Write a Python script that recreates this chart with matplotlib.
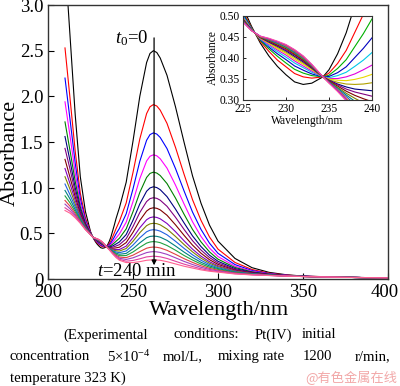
import matplotlib
matplotlib.use('Agg')
import matplotlib.pyplot as plt
from matplotlib.transforms import ScaledTranslation

plt.rcParams['font.family'] = ['Liberation Serif', 'DejaVu Serif']
plt.rcParams['mathtext.fontset'] = 'custom'
plt.rcParams['mathtext.rm'] = 'Liberation Serif'
plt.rcParams['mathtext.it'] = 'Liberation Serif:italic'

# wavelength grid (nm)
wl = [210, 213, 216, 219, 222, 225, 226, 227, 228, 229, 230, 231, 232, 233, 234.3,
      235, 236, 237, 238, 239, 240, 242, 246, 250, 254, 258, 260, 262, 264, 266, 270, 275,
      280, 285, 290, 295, 300, 310, 320, 330, 340, 350, 375, 400]

# absorbance spectra, t0 = 0 ... t = 240 min
curve_00 = [3.50, 2.65, 1.80, 1.12, 0.74, .52, .475, .436, .405, .38, .36, .343, .337, .34, .355, .372, .41, .46, .525, .59, .66,
            .78, 1.06, 1.51, 2.00, 2.37, 2.47, 2.50, 2.48, 2.42, 2.23, 1.885, 1.50, 1.13, .83, .59, .415, .225, .124, .073, .047, .032, .019, .012]
curve_01 = [2.53, 1.97, 1.40, 0.94, 0.67, .511, .472, .44, .416, .395, .379, .363, .355, .352, .355, .364, .387, .418, .461, .504, .55,
            .632, .833, 1.167, 1.533, 1.811, 1.886, 1.91, 1.894, 1.849, 1.704, 1.441, 1.149, .869, .642, .46, .327, .181, .104, .064, .043, .031, .019, .012]
curve_02 = [2.20, 1.74, 1.27, 0.88, 0.645, .506, .471, .442, .422, .404, .388, .373, .364, .358, .355, .359, .375, .396, .427, .458, .493,
            .554, .714, .987, 1.289, 1.519, 1.581, 1.60, 1.587, 1.55, 1.428, 1.209, .966, .733, .543, .392, .281, .158, .093, .059, .041, .03, .019, .012]
curve_03 = [1.94, 1.56, 1.16, 0.83, 0.627, .503, .47, .444, .426, .41, .396, .381, .371, .362, .355, .356, .365, .379, .401, .423, .448,
            .494, .622, .848, 1.099, 1.292, 1.344, 1.36, 1.349, 1.317, 1.214, 1.028, .823, .627, .466, .339, .246, .14, .085, .056, .04, .03, .018, .012]
curve_04 = [1.72, 1.40, 1.07, 0.79, 0.611, .50, .469, .445, .429, .415, .402, .388, .377, .366, .355, .353, .358, .366, .38, .395, .413,
            .446, .549, .737, .948, 1.112, 1.156, 1.17, 1.16, 1.133, 1.045, .886, .71, .543, .406, .297, .217, .126, .078, .053, .038, .029, .018, .012]
curve_05 = [1.56, 1.29, 1.00, 0.76, 0.599, .497, .468, .446, .432, .419, .407, .393, .381, .369, .355, .351, .351, .355, .362, .372, .383,
            .406, .487, .644, .822, .961, .997, 1.01, 1.001, .978, .902, .765, .615, .472, .355, .261, .194, .114, .073, .05, .037, .029, .018, .012]
curve_06 = [1.43, 1.20, 0.95, 0.736, 0.589, .495, .468, .447, .435, .422, .411, .397, .385, .372, .355, .35, .347, .346, .349, .354, .361,
            .376, .441, .575, .728, .848, .88, .89, .883, .863, .796, .676, .544, .42, .317, .235, .176, .105, .068, .048, .036, .028, .018, .012]
curve_07 = [1.31, 1.11, 0.90, 0.714, 0.581, .494, .467, .448, .437, .425, .414, .401, .388, .374, .355, .348, .342, .338, .337, .338, .341,
            .348, .399, .511, .641, .744, .771, .78, .774, .757, .698, .593, .479, .371, .282, .211, .16, .097, .065, .047, .036, .028, .018, .012]
curve_08 = [1.21, 1.04, 0.86, 0.695, 0.573, .492, .467, .449, .438, .428, .417, .404, .391, .376, .355, .347, .338, .331, .326, .324, .322,
            .323, .36, .453, .561, .649, .672, .68, .674, .659, .608, .518, .419, .327, .25, .189, .145, .09, .061, .045, .035, .028, .018, .012]
curve_09 = [1.12, 0.98, 0.82, 0.679, 0.567, .491, .467, .449, .44, .429, .419, .407, .393, .377, .355, .346, .336, .326, .319, .314, .309,
            .306, .334, .413, .507, .584, .604, .61, .606, .593, .547, .466, .378, .297, .228, .173, .135, .085, .059, .044, .035, .028, .018, .012]
curve_10 = [1.04, 0.92, 0.79, 0.664, 0.561, .49, .466, .45, .441, .431, .422, .409, .395, .379, .355, .345, .333, .321, .311, .303, .296,
            .288, .307, .372, .451, .517, .534, .54, .535, .524, .484, .413, .336, .265, .205, .158, .124, .079, .056, .043, .034, .028, .018, .012]
curve_11 = [0.97, 0.874, 0.76, 0.651, 0.556, .489, .466, .45, .442, .433, .424, .411, .397, .38, .355, .344, .33, .316, .304, .293, .283,
            .271, .28, .332, .396, .452, .466, .47, .467, .458, .423, .361, .295, .235, .183, .143, .114, .074, .054, .042, .034, .028, .018, .012]
curve_12 = [0.91, 0.832, 0.736, 0.64, 0.552, .488, .466, .451, .443, .435, .426, .413, .399, .381, .355, .343, .328, .312, .297, .284, .272,
            .255, .257, .296, .347, .393, .405, .41, .406, .398, .367, .315, .258, .208, .164, .129, .105, .07, .052, .041, .033, .027, .018, .012]
curve_13 = [0.86, 0.797, 0.715, 0.63, 0.548, .487, .466, .451, .444, .436, .428, .415, .401, .382, .355, .342, .325, .308, .29, .275, .261,
            .24, .234, .261, .30, .337, .346, .35, .347, .34, .314, .27, .223, .182, .145, .116, .096, .065, .05, .04, .033, .027, .018, .012]
curve_14 = [0.82, 0.768, 0.698, 0.623, 0.545, .486, .465, .451, .445, .438, .429, .417, .402, .383, .355, .341, .324, .304, .285, .268, .252,
            .227, .214, .232, .261, .289, .296, .30, .297, .291, .27, .232, .193, .159, .128, .105, .088, .062, .048, .039, .033, .027, .018, .012]
curve_15 = [0.78, 0.741, 0.682, 0.616, 0.542, .486, .465, .452, .446, .439, .431, .419, .404, .384, .355, .341, .322, .301, .279, .261, .242,
            .215, .195, .203, .221, .242, .246, .25, .247, .243, .225, .194, .163, .137, .112, .094, .081, .058, .046, .039, .032, .027, .018, .012]
curve_16 = [0.75, 0.72, 0.67, 0.61, 0.54, .485, .465, .452, .447, .44, .432, .42, .405, .385, .355, .34, .32, .298, .275, .255, .235,
            .205, .18, .18, .19, .205, .208, .21, .208, .205, .19, .165, .14, .12, .10, .085, .075, .055, .045, .038, .032, .027, .018, .012]

curves = [curve_00, curve_01, curve_02, curve_03, curve_04, curve_05, curve_06, curve_07, curve_08,
          curve_09, curve_10, curve_11, curve_12, curve_13, curve_14, curve_15, curve_16]

main_colors = ['#000000', '#ff0000', '#0000ff', '#ff00ff', '#008000', '#000080', '#800080', '#800000',
               '#8000c0', '#808000', '#2060e0', '#008080', '#20a040', '#e04040', '#a040c0', '#e040a0', '#ff6090']
inset_colors = ['#000000', '#ff0000', '#00b000', '#0000c0', '#00c8e8', '#e000e0', '#e8d800', '#b0a000',
                '#000080', '#800080', '#800000', '#808000', '#008080', '#3050d0', '#ff8000', '#8000ff', '#ff50a0']

x_ticks = [200, 250, 300, 350, 400]
y_ticks = [0, 0.5, 1.0, 1.5, 2.0, 2.5, 3.0]
y_ticklabels = ['0', '0.5', '1.0', '1.5', '2.0', '2.5', '3.0']
inset_x_ticks = [225, 230, 235, 240]
inset_y_ticks = [0.30, 0.35, 0.40, 0.45, 0.50]
inset_y_ticklabels = ['0.30', '0.35', '0.40', '0.45', '0.50']

fig = plt.figure(figsize=(4.0, 3.86), dpi=100)
ax = fig.add_axes([0.12, 0.2772, 0.85, 0.7098])
for c, col in zip(curves, main_colors):
    ax.plot(wl, c, color=col, lw=0.8)
ax.set_xlim(200, 400)
ax.set_ylim(0, 3.0)
ax.set_xticks(x_ticks)
ax.set_yticks(y_ticks)
ax.set_yticklabels(y_ticklabels)
ax.tick_params(direction='in', length=4, width=0.8, labelsize=13.5, pad=3.5)
last = ax.get_xticklabels()[-1]
last.set_transform(last.get_transform() + ScaledTranslation(-3 / 100.0, 0, fig.dpi_scale_trans))
for s in ax.spines.values():
    s.set_linewidth(1.0)
    s.set_color('#333333')
ax.set_xlabel('Wavelength/nm', fontsize=16)
ax.xaxis.set_label_coords(0.503, -0.082)
ax.set_ylabel('Absorbance', fontsize=16)
ax.yaxis.set_label_coords(-0.082, 0.46)

ax.annotate('', xy=(262.4, 0.15), xytext=(262.4, 2.64),
            arrowprops=dict(arrowstyle='-|>', color='k', lw=0.9, mutation_scale=7,
                            shrinkA=0, shrinkB=0))
ax.text(258.8, 2.64, '$t_0$=0', ha='right', va='center', fontsize=13.5)
ax.text(252.4, 0.085, '$t$=240 min', ha='center', va='center', fontsize=13.5)

axin = fig.add_axes([0.6075, 0.741, 0.3225, 0.2176])
for c, col in zip(curves, inset_colors):
    axin.plot(wl, c, color=col, lw=0.8)
axin.set_xlim(225, 240)
axin.set_ylim(0.30, 0.50)
axin.set_xticks(inset_x_ticks)
axin.set_yticks(inset_y_ticks)
axin.set_yticklabels(inset_y_ticklabels)
axin.tick_params(direction='in', length=2.5, width=0.6, labelsize=8.3, pad=2)
for s in axin.spines.values():
    s.set_linewidth(0.8)
    s.set_color('#333333')
axin.set_xlabel('Wavelength/nm', fontsize=8.3, labelpad=0)
axin.set_ylabel('Absorbance', fontsize=8.3, labelpad=1)

cap = 10.6
def px(x, y):
    return x / 400.0, 1 - y / 386.0

line1 = [('(Experimental', 63), ('conditions:', 173), ('Pt(IV)', 255), ('initial', 302)]
line2 = [('concentration', 10), ('5×10$^{-4}$', 107), ('mol/L,', 163), ('mixing', 218),
         ('rate', 263), ('1200', 303), ('r/min,', 355)]
for w, x in line1:
    fx, fy = px(x, 335)
    fig.text(fx, fy, w, fontsize=cap, ha='left', va='center')
for w, x in line2:
    fx, fy = px(x, 356.7)
    fig.text(fx, fy, w, fontsize=cap, ha='left', va='center')
fx, fy = px(10, 378)
fig.text(fx, fy, 'temperature 323 K)', fontsize=cap, ha='left', va='center')
fx, fy = px(305, 378)
fig.text(fx, fy, '@有色金属在线', fontsize=9.5, ha='left', va='center', color='#f2a8a8',
         family=['Noto Sans CJK SC', 'DejaVu Sans'])

fig.savefig('out.png', dpi=100)
